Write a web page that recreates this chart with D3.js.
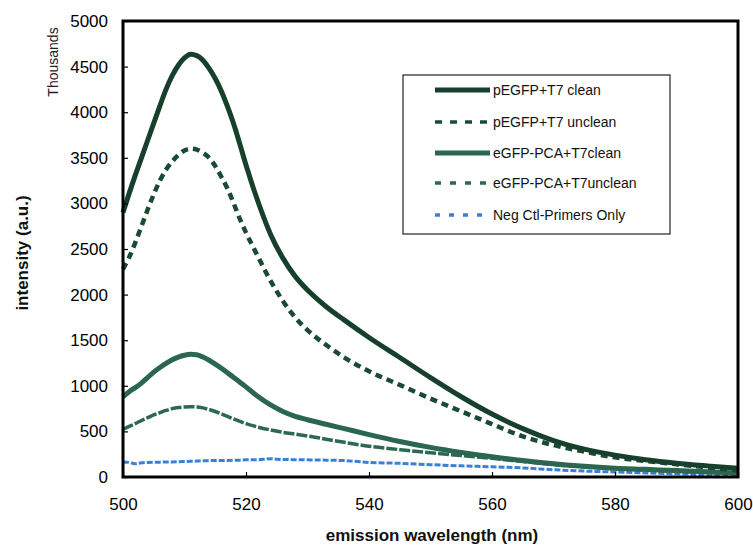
<!DOCTYPE html>
<html>
<head>
<meta charset="utf-8">
<script src="https://cdn.jsdelivr.net/npm/d3@7"></script>
<style>
  html, body { margin: 0; padding: 0; background: #ffffff; }
  svg { display: block; font-family: "Liberation Sans", Arial, Helvetica, sans-serif; }
</style>
</head>
<body>
<svg id="chart" width="753" height="548"></svg>
<script>
// Emission wavelengths (nm) at which the spectra are sampled
const wavelengths = [500, 501, 502, 503, 504, 505, 506, 507, 508, 509, 510, 511, 512, 513, 514, 515, 516, 517, 518, 519, 520,
  522, 524, 526, 528, 530, 533, 536, 540, 545, 550, 555, 560, 565, 570, 575, 580, 585, 590, 595, 600];

// Fluorescence intensity (a.u., thousands)
const pegfpClean = [2900, 3110, 3310, 3500, 3690, 3880, 4070, 4250, 4400, 4515, 4595, 4635, 4620, 4570, 4480, 4370, 4230, 4060, 3870, 3650, 3420,
  3010, 2660, 2400, 2200, 2050, 1870, 1720, 1530, 1310, 1090, 880, 690, 530, 400, 305, 240, 190, 152, 122, 95];
const pegfpUnclean = [2280, 2410, 2570, 2750, 2930, 3100, 3250, 3370, 3460, 3530, 3580, 3600, 3590, 3555, 3500, 3410, 3290, 3160, 3000, 2830, 2680,
  2410, 2150, 1930, 1750, 1610, 1450, 1310, 1160, 1010, 860, 720, 580, 445, 350, 278, 215, 175, 140, 105, 70];
const pcaClean = [880, 935, 980, 1030, 1090, 1150, 1200, 1245, 1285, 1315, 1335, 1345, 1340, 1315, 1280, 1238, 1192, 1142, 1092, 1040, 988,
  880, 790, 718, 665, 628, 578, 530, 465, 390, 325, 270, 222, 180, 145, 117, 97, 84, 70, 58, 45];
const pcaUnclean = [520, 555, 585, 620, 650, 680, 705, 730, 750, 762, 768, 770, 768, 758, 740, 718, 692, 664, 636, 610, 586,
  546, 515, 490, 470, 450, 415, 380, 337, 300, 265, 235, 205, 170, 135, 110, 90, 75, 62, 50, 40];
const negControl = [165, 160, 145, 155, 160, 162, 163, 165, 165, 168, 170, 172, 175, 178, 180, 182, 182, 182, 183, 185, 188,
  190, 200, 192, 190, 188, 185, 180, 160, 150, 135, 122, 112, 100, 80, 65, 55, 45, 35, 25, 18];

const seriesNames = ["pEGFP+T7 clean", "pEGFP+T7 unclean", "eGFP-PCA+T7clean", "eGFP-PCA+T7unclean", "Neg Ctl-Primers Only"];

const yTicks = [0, 500, 1000, 1500, 2000, 2500, 3000, 3500, 4000, 4500, 5000];
const xTicks = [500, 520, 540, 560, 580, 600];

const svg = d3.select("#chart");
svg.append("rect").attr("width", 753).attr("height", 548).attr("fill", "#ffffff");

const x = d3.scaleLinear().domain([500, 600]).range([123, 738]);
const y = d3.scaleLinear().domain([0, 5000]).range([477, 21]);

// Line styles: plot dash pattern and legend dash pattern
const styles = [
  { data: pegfpClean,   color: "#17402c", width: 5,   dash: null,   legendDash: null },
  { data: pegfpUnclean, color: "#1b4a33", width: 4.5, dash: "7,5",  legendDash: "7,8" },
  { data: pcaClean,     color: "#2a6650", width: 5,   dash: null,   legendDash: null },
  { data: pcaUnclean,   color: "#2c6a50", width: 3.5, dash: "11,2", legendDash: "6,9" },
  { data: negControl,   color: "#3a80d8", width: 3,   dash: "6,2",  legendDash: "5,9" }
];

const line = d3.line()
  .x((d, i) => x(wavelengths[i]))
  .y(d => y(d))
  .curve(d3.curveMonotoneX);

const plot = svg.append("g");
[4, 3, 2, 1, 0].forEach(k => {
  const s = styles[k];
  plot.append("path")
    .datum(s.data)
    .attr("d", line)
    .attr("fill", "none")
    .attr("stroke", s.color)
    .attr("stroke-width", s.width)
    .attr("stroke-dasharray", s.dash)
    .attr("stroke-linejoin", "round");
});

// Axes with inward ticks
const yAxis = svg.append("g")
  .attr("transform", "translate(123,0)")
  .call(d3.axisLeft(y).tickValues(yTicks).tickFormat(d3.format("d"))
    .tickSizeInner(-5).tickSizeOuter(0).tickPadding(15));
const xAxis = svg.append("g")
  .attr("transform", "translate(0,477)")
  .call(d3.axisBottom(x).tickValues(xTicks).tickFormat(d3.format("d"))
    .tickSizeInner(-5).tickSizeOuter(0).tickPadding(21));

[yAxis, xAxis].forEach(a => {
  a.select(".domain").remove();
  a.selectAll(".tick line").attr("stroke", "#000").attr("stroke-width", 1.2);
  a.selectAll(".tick text").attr("fill", "#000").style("font-size", "17px")
    .style("font-family", "'Liberation Sans', Arial, sans-serif");
});

// Plot frame
svg.append("rect")
  .attr("x", x(500)).attr("y", y(5000))
  .attr("width", x(600) - x(500)).attr("height", y(0) - y(5000))
  .attr("fill", "none").attr("stroke", "#000").attr("stroke-width", 3);

// Axis titles
svg.append("text")
  .attr("x", 432).attr("y", 541)
  .attr("text-anchor", "middle")
  .style("font-size", "17px").style("font-weight", "bold").attr("fill", "#111")
  .text("emission wavelength (nm)");

svg.append("text")
  .attr("transform", "translate(28,253) rotate(-90)")
  .attr("text-anchor", "middle")
  .style("font-size", "17px").style("font-weight", "bold").attr("fill", "#111")
  .text("intensity (a.u.)");

svg.append("text")
  .attr("transform", "translate(58,62) rotate(-90)")
  .attr("text-anchor", "middle")
  .style("font-size", "14px").attr("fill", "#222")
  .text("Thousands");

// Legend
const legend = svg.append("g");
legend.append("rect")
  .attr("x", 403).attr("y", 75).attr("width", 267).attr("height", 159)
  .attr("fill", "#ffffff").attr("stroke", "#222").attr("stroke-width", 1.2);

const rowY = [90, 122, 153, 183, 215];
styles.forEach((s, i) => {
  legend.append("line")
    .attr("x1", 435).attr("x2", 490)
    .attr("y1", rowY[i]).attr("y2", rowY[i])
    .attr("stroke", s.color)
    .attr("stroke-width", s.dash ? 3.5 : 5)
    .attr("stroke-dasharray", s.legendDash);
  legend.append("text")
    .attr("x", 493).attr("y", rowY[i]).attr("dy", "0.35em")
    .style("font-size", "14px").attr("fill", "#111")
    .text(seriesNames[i]);
});
</script>
</body>
</html>
